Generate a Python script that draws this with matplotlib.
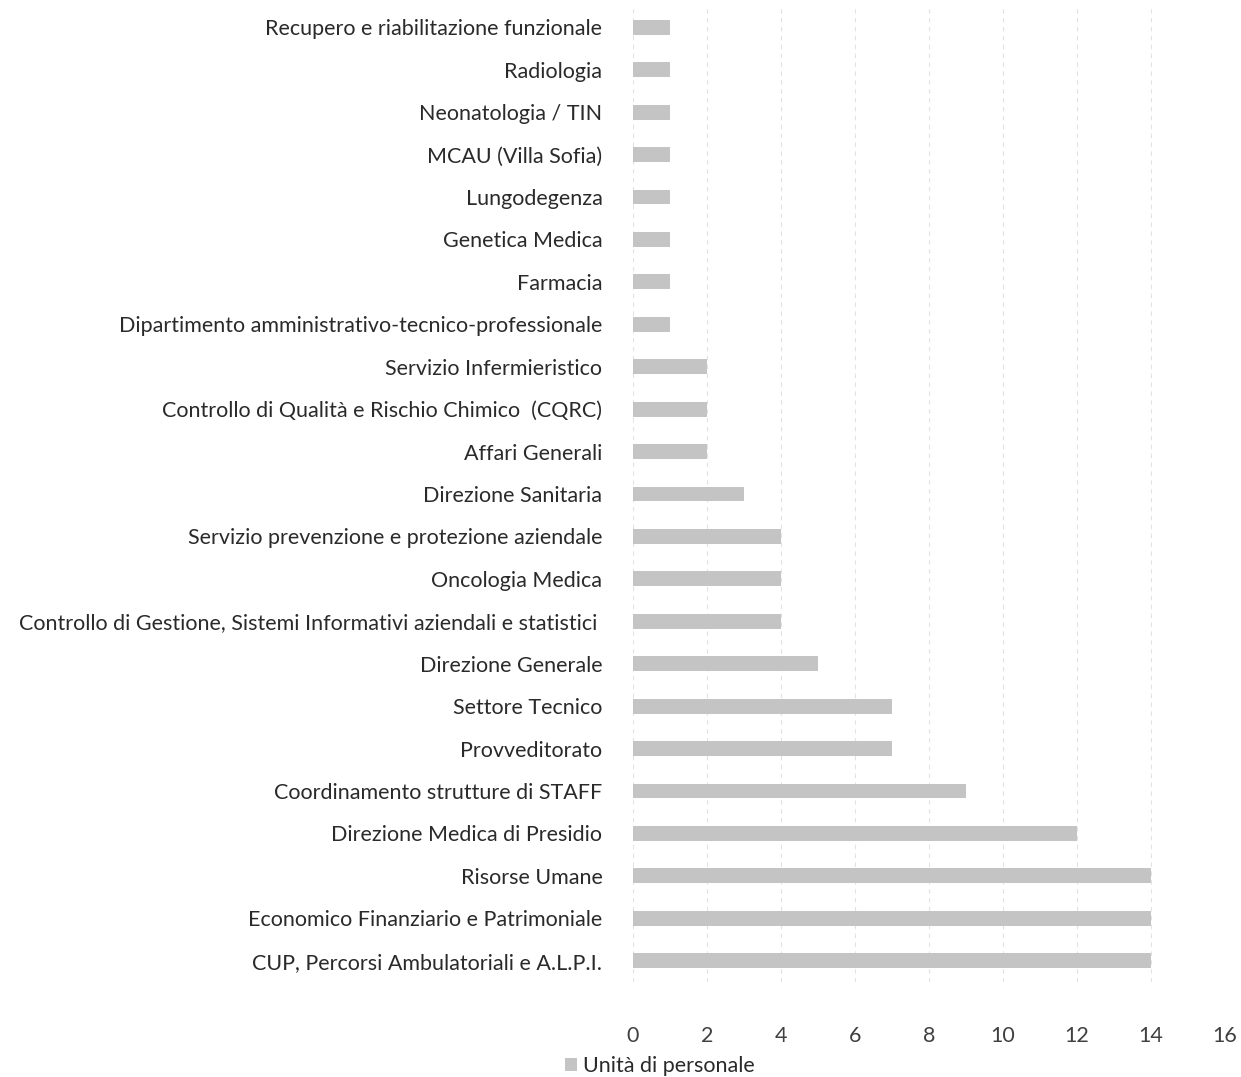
import matplotlib
matplotlib.use("Agg")
import matplotlib.pyplot as plt

categories = [
    "CUP, Percorsi Ambulatoriali e A.L.P.I.",
    "Economico Finanziario e Patrimoniale",
    "Risorse Umane",
    "Direzione Medica di Presidio",
    "Coordinamento strutture di STAFF",
    "Provveditorato",
    "Settore Tecnico",
    "Direzione Generale",
    "Controllo di Gestione, Sistemi Informativi aziendali e statistici ",
    "Oncologia Medica",
    "Servizio prevenzione e protezione aziendale",
    "Direzione Sanitaria",
    "Affari Generali",
    "Controllo di Qualità e Rischio Chimico  (CQRC)",
    "Servizio Infermieristico",
    "Dipartimento amministrativo-tecnico-professionale",
    "Farmacia",
    "Genetica Medica",
    "Lungodegenza",
    "MCAU (Villa Sofia)",
    "Neonatologia / TIN",
    "Radiologia",
    "Recupero e riabilitazione funzionale",
]
values = [14, 14, 14, 12, 9, 7, 7, 5, 4, 4, 4, 3, 2, 2, 2, 1, 1, 1, 1, 1, 1, 1, 1]
xticks = [0, 2, 4, 6, 8, 10, 12, 14, 16]
series_name = "Unità di personale"

plt.rcParams['font.family'] = ['Lato', 'DejaVu Sans']

fig = plt.figure(figsize=(12.41, 10.77), dpi=100)
ax = fig.add_axes([633/1241, 1 - 982/1077, (1225-633)/1241, (982-6)/1077])

y = list(range(len(categories)))
ax.barh(y, values, height=0.35, color="#c4c4c4", label=series_name, zorder=2)
ax.set_ylim(-0.5, len(categories) - 0.5)
ax.set_xlim(0, 16)
ax.set_xticks(xticks)
ax.set_xticklabels([str(t) for t in xticks], fontsize=15.5, color="#404040")
ax.set_yticks(y)
ax.set_yticklabels(categories, fontsize=15.5, color="#2a2a2a")
ax.tick_params(axis='x', length=0, pad=32)
ax.tick_params(axis='y', length=0, pad=22)
for s in ax.spines.values():
    s.set_visible(False)
ax.grid(axis='x', color="#e2e2e2", linestyle=(0, (4, 4)), linewidth=0.8, zorder=0)
ax.set_axisbelow(True)

leg = fig.legend(loc='center', bbox_to_anchor=(660/1241, 1 - 1066/1077), frameon=False,
                 fontsize=15.5, handlelength=0.55, handleheight=0.55, handletextpad=0.3)
for t in leg.get_texts():
    t.set_color("#2a2a2a")

fig.savefig("out.png", dpi=100)
